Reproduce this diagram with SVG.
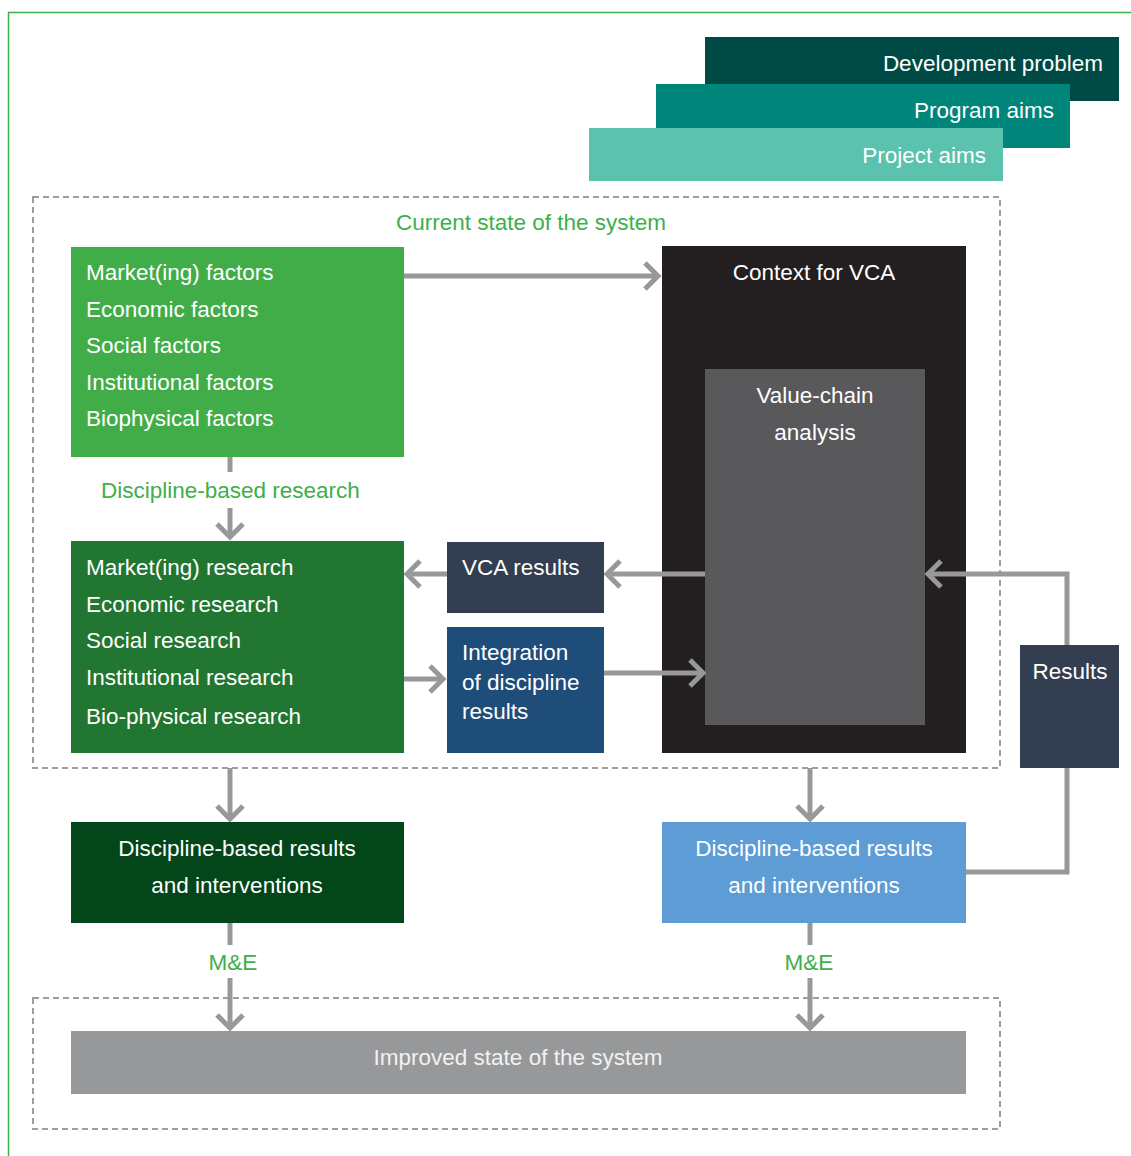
<svg xmlns="http://www.w3.org/2000/svg" width="1131" height="1156" viewBox="0 0 1131 1156">
<defs>
<marker id="chev" markerUnits="userSpaceOnUse" markerWidth="40" markerHeight="40" viewBox="-20 -20 40 40" refX="0" refY="0" orient="auto" overflow="visible">
<path d="M-13,-13 L0,0 L-13,13" fill="none" stroke="#97989a" stroke-width="5"/>
</marker>
</defs>
<style>
text{font-family:"Liberation Sans",Arial,sans-serif;font-size:22.5px;fill:#ffffff}
.g{fill:#3daf4a}
.c{text-anchor:middle}
.r{text-anchor:end}
.dash{fill:none;stroke:#9d9d9f;stroke-width:2;stroke-dasharray:6 4}
.con{fill:none;stroke:#97989a;stroke-width:5}
.arr{marker-end:url(#chev)}
</style>
<rect width="1131" height="1156" fill="#ffffff"/>
<path d="M8.5,1156 V12.5 H1131" fill="none" stroke="#3daf4a" stroke-width="1.5"/>
<g id="frames">
<rect class="dash" x="33" y="197" width="967" height="571"/>
<rect class="dash" x="33" y="998" width="967" height="131"/>
<text class="g c" x="531" y="230">Current state of the system</text>
</g>
<g id="context-vca">
<rect x="662" y="246" width="304" height="507" fill="#231f20"/>
<text class="c" x="814" y="280">Context for VCA</text>
</g>
<g id="value-chain">
<rect x="705" y="369" width="220" height="356" fill="#59595b"/>
<text class="c" x="815" y="403">Value-chain</text>
<text class="c" x="815" y="440">analysis</text>
</g>
<g id="connectors">
<path class="con arr" d="M404,276 H658"/>
<path class="con arr" d="M705,574 H607"/>
<path class="con arr" d="M447,574 H407"/>
<path class="con arr" d="M404,679 H443"/>
<path class="con arr" d="M604,673 H703"/>
<path class="con arr" d="M966,872 H1067 V574 H928"/>
<path class="con" d="M230,457 V472"/>
<path class="con arr" d="M230,508 V537"/>
<path class="con arr" d="M230,768 V819"/>
<path class="con arr" d="M810,768 V819"/>
<path class="con" d="M230,923 V945"/>
<path class="con arr" d="M230,978 V1028"/>
<path class="con" d="M810,923 V945"/>
<path class="con arr" d="M810,978 V1028"/>
<text class="g" x="101" y="498">Discipline-based research</text>
<text class="g c" x="233" y="970">M&amp;E</text>
<text class="g c" x="809" y="970">M&amp;E</text>
</g>
<g id="dev-problem">
<rect x="705" y="37" width="414" height="64" fill="#004a45"/>
<text class="r" x="1103" y="71">Development problem</text>
</g>
<g id="program-aims">
<rect x="656" y="84" width="414" height="64" fill="#00857a"/>
<text class="r" x="1054" y="118">Program aims</text>
</g>
<g id="project-aims">
<rect x="589" y="128" width="414" height="53" fill="#5bc3ad"/>
<text class="r" x="986" y="163">Project aims</text>
</g>
<g id="factors">
<rect x="71" y="247" width="333" height="210" fill="#41ad49"/>
<text x="86" y="280">Market(ing) factors</text>
<text x="86" y="317">Economic factors</text>
<text x="86" y="353">Social factors</text>
<text x="86" y="390">Institutional factors</text>
<text x="86" y="426">Biophysical factors</text>
</g>
<g id="research">
<rect x="71" y="541" width="333" height="212" fill="#217631"/>
<text x="86" y="575">Market(ing) research</text>
<text x="86" y="612">Economic research</text>
<text x="86" y="648">Social research</text>
<text x="86" y="685">Institutional research</text>
<text x="86" y="724">Bio-physical research</text>
</g>
<g id="vca-results">
<rect x="447" y="542" width="157" height="71" fill="#333e50"/>
<text x="462" y="575">VCA results</text>
</g>
<g id="integration">
<rect x="447" y="627" width="157" height="126" fill="#1e4d7a"/>
<text x="462" y="660">Integration</text>
<text x="462" y="690">of discipline</text>
<text x="462" y="719">results</text>
</g>
<g id="results">
<rect x="1020" y="645" width="99" height="123" fill="#333e50"/>
<text class="c" x="1070" y="679">Results</text>
</g>
<g id="disc-results-left">
<rect x="71" y="822" width="333" height="101" fill="#03461a"/>
<text class="c" x="237" y="856">Discipline-based results</text>
<text class="c" x="237" y="893">and interventions</text>
</g>
<g id="disc-results-right">
<rect x="662" y="822" width="304" height="101" fill="#5d9cd5"/>
<text class="c" x="814" y="856">Discipline-based results</text>
<text class="c" x="814" y="893">and interventions</text>
</g>
<g id="improved">
<rect x="71" y="1031" width="895" height="63" fill="#97989a"/>
<text class="c" x="518" y="1065" style="fill:#f2f2f2">Improved state of the system</text>
</g>
</svg>
